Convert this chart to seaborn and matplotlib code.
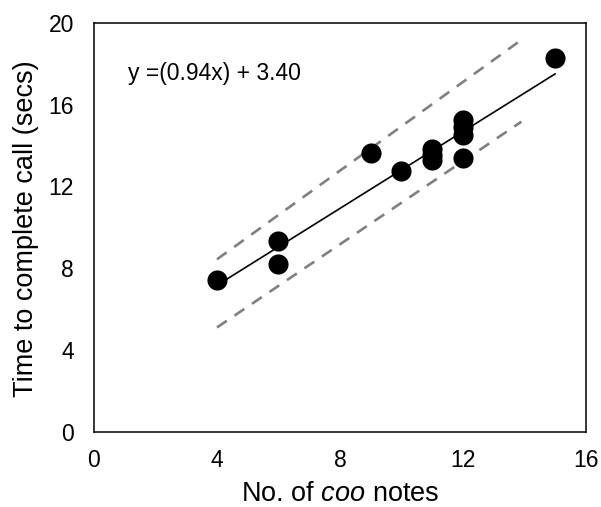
import matplotlib
matplotlib.use("Agg")
import matplotlib.pyplot as plt
import seaborn as sns
import numpy as np
import pandas as pd

# Call duration against number of coo notes
notes = [4, 6, 6, 9, 10, 11, 11, 11, 12, 12, 12, 12, 15]
call_secs = [7.42, 9.34, 8.18, 13.61, 12.76, 13.81, 13.55, 13.29, 15.24, 14.88, 14.51, 13.37, 18.26]

# Fitted regression and its bounds
slope = 0.94
intercept = 3.40
fit_x = [4, 15]
upper_x = [4, 14.0]
upper_y = [8.43, 19.27]
lower_x = [4, 13.9]
lower_y = [5.10, 15.16]

x_ticks = [0, 4, 8, 12, 16]
y_ticks = [0, 4, 8, 12, 16, 20]

sns.set_style("white")
plt.rcParams["font.family"] = ["Liberation Sans", "DejaVu Sans"]
plt.rcParams["mathtext.fontset"] = "custom"
plt.rcParams["mathtext.rm"] = "Liberation Sans"
plt.rcParams["mathtext.it"] = "Liberation Sans:italic"

fig = plt.figure(figsize=(6.01, 5.07), dpi=100)
ax = fig.add_axes([0.1564, 0.1485, 0.8186, 0.8067])

pts = pd.DataFrame({"notes": notes, "secs": call_secs})
fit = pd.DataFrame({"x": fit_x, "y": [slope * v + intercept for v in fit_x]})
up = pd.DataFrame({"x": upper_x, "y": upper_y})
lo = pd.DataFrame({"x": lower_x, "y": lower_y})

sns.lineplot(data=up, x="x", y="y", ax=ax, color="#808080", lw=1.9,
             estimator=None, zorder=2).lines[-1].set_dashes([4.5, 3.5])
sns.lineplot(data=lo, x="x", y="y", ax=ax, color="#808080", lw=1.9,
             estimator=None, zorder=2).lines[-1].set_dashes([4.5, 3.5])
sns.lineplot(data=fit, x="x", y="y", ax=ax, color="black", lw=1.2,
             estimator=None, zorder=3)
sns.scatterplot(data=pts, x="notes", y="secs", ax=ax, color="black",
                s=210, edgecolor="black", linewidth=0, zorder=4)

ax.text(1.12, 17.5, f"y =({slope:.2f}x) + {intercept:.2f}", fontsize=16.5,
        va="center", ha="left", color="black")

ax.set_xlim(0, 16)
ax.set_ylim(0, 20)
ax.set_xticks(x_ticks)
ax.set_yticks(y_ticks)
ax.tick_params(direction="in", length=4, width=1, labelsize=16.5,
               colors="black")
ax.tick_params(axis="x", pad=12.5)
ax.tick_params(axis="y", pad=14.5)
for sp in ax.spines.values():
    sp.set_visible(True)
    sp.set_color("black")
    sp.set_linewidth(1.1)

ax.set_xlabel(r"No. of $\mathit{coo}$ notes", fontsize=19.5, color="black")
ax.set_ylabel("Time to complete call (secs)", fontsize=19.5, color="black")
ax.xaxis.set_label_coords(0.5, -0.12)
ax.yaxis.set_label_coords(-0.112, 0.4956)

fig.savefig("out.png", dpi=100)
